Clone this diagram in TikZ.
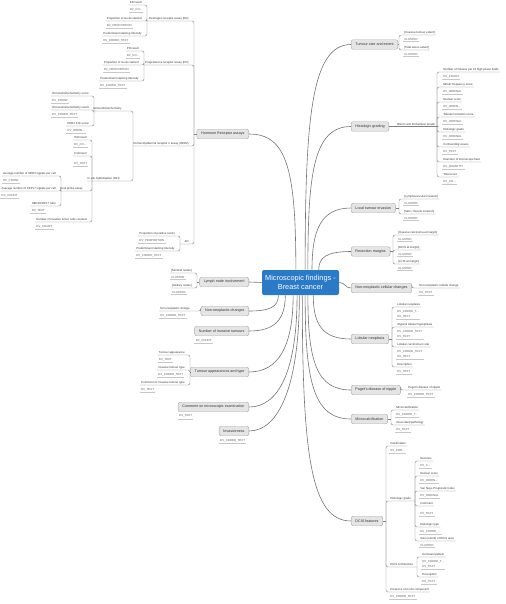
\documentclass[tikz,border=0pt]{standalone}
\usepackage{fontspec}
\setmainfont{Liberation Sans}

\tikzset{
  root/.style={fill={rgb,255:red,42;green,122;blue,200}, text=white, rounded corners=1.5pt,
    minimum width=57.75pt, minimum height=18.75pt, inner sep=0pt, align=center,
    font=\fontsize{5.5}{6.8}\selectfont},
  topic/.style={draw=black!35, fill=black!10, rounded corners=1.5pt, line width=0.3pt,
    font=\fontsize{2.75}{3.3}\selectfont, text=black!80, minimum height=7.1pt,
    inner xsep=3.2pt, inner ysep=0pt},
  kid/.style={font=\fontsize{2.15}{3.9}\selectfont, text=black!80, inner xsep=0.8pt,
    inner ysep=0.7pt, align=left},
  kidtype/.style={kid, text=black!65, yshift=-1.4pt},
  link/.style={draw=black!50, line width=0.3pt, rounded corners=1.5pt},
  typeline/.style={draw=black!22, line width=0.2pt},
  branch/.style={draw=black!55, line width=0.45pt}
}

% right hand child: name, bracket, x, y, label, type
\newcommand{\rkid}[6]{%
  \node[kid, anchor=south west] (#1) at (#3,#4+2) {#5};
  \node[kidtype, anchor=north west] (#1t) at (#1.south west) {#6};
  \draw[link] (#2) |- (#1.south west) -- (#1.south east);
  \draw[typeline] (#1t.south west) -- (#1t.south east);
}
% left hand child
\newcommand{\lkid}[6]{%
  \node[kid, anchor=south east] (#1) at (#3,#4+2) {#5};
  \node[kidtype, anchor=north west] (#1t) at (#1.south west) {#6};
  \draw[link] (#2) |- (#1.south east) -- (#1.south west);
  \draw[typeline] (#1t.south west) -- (#1t.south east);
}
% clusters with own bracket
\newcommand{\rsub}[6]{%
  \node[kid, anchor=south west] (#1) at (#3,#4+2) {#5};
  \coordinate (#1-b) at (#6,#4+2);
  \draw[link] (#2) |- (#1.south west) -- (#1.south east) -- (#1-b);
}
\newcommand{\lsub}[6]{%
  \node[kid, anchor=south east] (#1) at (#3,#4+2) {#5};
  \coordinate (#1-b) at (#6,#4+2);
  \draw[link] (#2) |- (#1.south east) -- (#1.south west) -- (#1-b);
}

\begin{document}
\begin{tikzpicture}[x=0.75pt,y=0.75pt,yscale=-1,xscale=1]
\useasboundingbox (0,0) rectangle (506,604);

% Central Node
\node[root] (main) at (300.5,282.5) {Microscopic findings -\\Breast cancer};

% Topics right
\node[topic, anchor=west] (size) at (351,44.5) {Tumour size and extent};
\node[topic, anchor=west] (hist) at (351,126.5) {Histologic grading};
\node[topic, anchor=west] (local) at (351,208) {Local tumour invasion};
\node[topic, anchor=west] (resect) at (351,251.5) {Resection margins};
\node[topic, anchor=west] (noncell) at (351,288) {Non-neoplastic cellular changes};
\node[topic, anchor=west] (lob) at (351,339) {Lobular neoplasia};
\node[topic, anchor=west] (paget) at (351,390) {Paget's disease of nipple};
\node[topic, anchor=west] (micro) at (351,419) {Microcalcification};
\node[topic, anchor=west] (dcis) at (351,521) {DCIS features};
% Topics left
\node[topic, anchor=east] (hr) at (249,134) {Hormone Receptor assays};
\node[topic, anchor=east] (lymph) at (249,282) {Lymph node involvement};
\node[topic, anchor=east] (nonneo) at (249,311) {Non-neoplastic changes};
\node[topic, anchor=east] (numinv) at (249,331) {Number of invasive tumours};
\node[topic, anchor=east] (tumapp) at (249,372) {Tumour appearances and type};
\node[topic, anchor=east] (comment) at (249,407) {Comment on microscopic examination};
\node[topic, anchor=east] (invas) at (249,431) {Invasiveness};

%Curve Lines
\draw[branch] (main.70) .. controls +(0,-150) and +(-40,0) .. (size.west);
\draw[branch] (main.60) .. controls +(0,-95) and +(-38,0) .. (hist.west);
\draw[branch] (main.48) .. controls +(0,-40) and +(-30,0) .. (local.west);
\draw[branch] (main.35) .. controls +(0,-12) and +(-25,0) .. (resect.west);
\draw[branch] (main.east) .. controls +(6,0) and +(-6,0) .. (noncell.west);
\draw[branch] (main.-45) .. controls +(0,30) and +(-28,0) .. (lob.west);
\draw[branch] (main.-60) .. controls +(0,65) and +(-35,0) .. (paget.west);
\draw[branch] (main.-70) .. controls +(0,85) and +(-38,0) .. (micro.west);
\draw[branch] (main.-82) .. controls +(0,160) and +(-40,0) .. (dcis.west);
\draw[branch] (main.110) .. controls +(0,-100) and +(38,0) .. (hr.east);
\draw[branch] (main.west) -- (lymph.east);
\draw[branch] (main.-150) .. controls +(0,12) and +(20,0) .. (nonneo.east);
\draw[branch] (main.-140) .. controls +(0,25) and +(25,0) .. (numinv.east);
\draw[branch] (main.-120) .. controls +(0,50) and +(30,0) .. (tumapp.east);
\draw[branch] (main.-105) .. controls +(0,75) and +(30,0) .. (comment.east);
\draw[branch] (main.-95) .. controls +(0,90) and +(30,0) .. (invas.east);

% Tumour size and extent
\coordinate (size-b) at (399,44.5);
\draw[link] (size.east) -- (size-b);
\rkid{sz1}{size-b}{403}{33}{[Invasive tumour extent]}{CLUSTER}
\rkid{sz2}{size-b}{403}{48}{[Total lesion extent]}{CLUSTER}

% Histologic grading
\node[kid, anchor=south west] (bloom) at (396,126.5) {Bloom and Richardson Grade};
\coordinate (bloom-b) at (437,126.5);
\draw[link] (hist.east) -- (bloom.south west) -- (bloom.south east) -- (bloom-b);
\rkid{gr1}{bloom-b}{442}{70}{Number of mitoses per 10 high power fields}{DV\_COUNT}
\rkid{gr2}{bloom-b}{442}{85}{Mitotic frequency score}{DV\_ORDINAL}
\rkid{gr3}{bloom-b}{442}{100}{Nuclear score}{DV\_ORDIN...}
\rkid{gr4}{bloom-b}{442}{115}{Tubular formation score}{DV\_ORDINAL}
\rkid{gr5}{bloom-b}{442}{130}{Histologic grade}{DV\_ORDINAL}
\rkid{gr6}{bloom-b}{442}{145}{Confounding issues}{DV\_TEXT}
\rkid{gr7}{bloom-b}{442}{160}{Diameter of microscope field}{DV\_QUANTITY}
\rkid{gr8}{bloom-b}{442}{175}{Total score}{DV\_CO...}

% Local tumour invasion
\coordinate (local-b) at (399,208);
\draw[link] (local.east) -- (local-b);
\rkid{lt1}{local-b}{403}{197}{[Lymphovascular invasion]}{CLUSTER}
\rkid{lt2}{local-b}{403}{212}{[Skin / muscle invasion]}{CLUSTER}

% Resection margins
\coordinate (resect-b) at (393,251.5);
\draw[link] (resect.east) -- (resect-b);
\rkid{rm1}{resect-b}{397}{233}{[Invasive carcinoma at margin]}{CLUSTER}
\rkid{rm2}{resect-b}{397}{248}{[DCIS at margin]}{CLUSTER}
\rkid{rm3}{resect-b}{397}{262}{[LCIS at margin]}{CLUSTER}

% Non-neoplastic cellular changes
\rkid{nc1}{noncell.east}{418}{286}{Non-neoplastic cellular change}{DV\_TEXT}

% Lobular neoplasia
\coordinate (lob-b) at (392,339);
\draw[link] (lob.east) -- (lob-b);
\rkid{ln1}{lob-b}{396}{305}{Lobular neoplasia}{DV\_CODED\_T...\\DV\_TEXT}
\rkid{ln2}{lob-b}{396}{325}{Atypical lobular hyperplasia}{DV\_CODED\_TEXT\\DV\_TEXT}
\rkid{ln3}{lob-b}{396}{345}{Lobular carcinoma in situ}{DV\_CODED\_TEXT\\DV\_TEXT}
\rkid{ln4}{lob-b}{396}{365}{Description}{DV\_TEXT}

% Paget's disease
\rkid{pg1}{paget.east}{407}{388}{Paget's disease of nipple}{DV\_CODED\_TEXT}

% Microcalcification
\coordinate (micro-b) at (391,419);
\draw[link] (micro.east) -- (micro-b);
\rkid{mc1}{micro-b}{395}{408}{Microcalcification}{DV\_CODED\_T...}
\rkid{mc2}{micro-b}{395}{423}{Associated pathology}{DV\_TEXT}

% DCIS features
\coordinate (dcis-b) at (386,521);
\draw[link] (dcis.east) -- (dcis-b);
\rkid{dc1}{dcis-b}{389}{444}{Calcification}{DV\_COD...}
\rsub{hg}{dcis-b}{389}{499}{Histologic grade}{415}
\rkid{hg1}{hg-b}{419}{459}{Necrosis}{DV\_C...}
\rkid{hg2}{hg-b}{419}{474}{Nuclear score}{DV\_ORDIN...}
\rkid{hg3}{hg-b}{419}{489}{Van Nuys Prognostic Index}{DV\_ORDINAL}
\rkid{hg4}{hg-b}{419}{504}{Comment}{\mbox{}\\DV\_TEXT}
\rkid{hg5}{hg-b}{419}{525}{Histologic type}{DV\_CODED\_...}
\rkid{hg6}{hg-b}{419}{539}{Size (extent) of DCIS area}{CLUSTER}
\rsub{da}{dcis-b}{389}{565}{DCIS Architecture}{417}
\rkid{da1}{da-b}{421}{555}{Dominant pattern}{DV\_CODED\_T...\\DV\_TEXT}
\rkid{da2}{da-b}{421}{575}{Description}{DV\_TEXT}
\rkid{dc4}{dcis-b}{389}{590}{Presence of in situ component}{DV\_CODED\_TEXT}

% Hormone Receptor assays
\coordinate (hr-b) at (194,134);
\draw[link] (hr.west) -- (hr-b);
\lsub{er}{hr-b}{190}{19}{Oestrogen receptor assay (ER)}{147}
\lkid{er1}{er-b}{143}{3}{ER result}{DV\_CO...}
\lkid{er2}{er-b}{143}{19}{Proportion of nuclei stained}{DV\_PROPORTION}
\lkid{er3}{er-b}{143}{34}{Predominant staining intensity}{DV\_CODED\_TEXT}
\lsub{pr}{hr-b}{190}{63}{Progesterone receptor assay (PR)}{144}
\lkid{pr1}{pr-b}{140}{49}{PR result}{DV\_CO...}
\lkid{pr2}{pr-b}{140}{63}{Proportion of nuclei stained}{DV\_PROPORTION}
\lkid{pr3}{pr-b}{140}{79}{Predominant staining intensity}{DV\_CODED\_TEXT}
\lsub{her}{hr-b}{190}{144}{Human Epidermal receptor 2 assay (HER2)}{133}
\lsub{ihc}{her-b}{123}{109}{Immunohistochemistry}{94}
\lkid{ih1}{ihc-b}{90}{94}{Immunohistochemistry score}{DV\_COUNT}
\lkid{ih2}{ihc-b}{90}{108}{Immunohistochemistry result}{DV\_CODED\_TEXT}
\lkid{ih3}{ihc-b}{90}{124}{HER2 IHC score}{DV\_ORDIN...}
\lsub{ish}{her-b}{121}{179}{In situ hybridisation (ISH)}{92}
\lkid{is1}{ish-b}{88}{138}{ISH result}{DV\_CO...}
\lkid{is2}{ish-b}{88}{154}{Comment}{\mbox{}\\DV\_TEXT}
\lsub{dp}{ish-b}{84}{189}{Dual probe assay}{61}
\lkid{dp1}{dp-b}{57}{174}{Average number of HER2 signals per cell}{DV\_COUNT}
\lkid{dp2}{dp-b}{57}{189}{Average number of CEP17 signals per cell}{DV\_COUNT}
\lkid{dp3}{dp-b}{57}{204}{HER2/CEP17 ratio}{DV\_TEXT}
\lkid{is3}{ish-b}{88}{220}{Number of invasive tumor cells counted}{DV\_COUNT}
\lsub{ar}{hr-b}{190}{242}{AR}{180}
\lkid{ar1}{ar-b}{176}{234}{Proportion of positive nuclei}{DV\_PROPORTION}
\lkid{ar2}{ar-b}{176}{249}{Predominant staining intensity}{DV\_CODED\_TEXT}

% Lymph node involvement
\coordinate (lymph-b) at (197,282);
\draw[link] (lymph.west) -- (lymph-b);
\lkid{ly1}{lymph-b}{193}{271}{[Sentinel nodes]}{CLUSTER}
\lkid{ly2}{lymph-b}{193}{286}{[Axillary nodes]}{CLUSTER}

% Non-neoplastic changes
\lkid{nn1}{nonneo.west}{191}{309}{Non-neoplastic change}{DV\_CODED\_TEXT}

% Tumour appearances and type
\coordinate (tumapp-b) at (190,372);
\draw[link] (tumapp.west) -- (tumapp-b);
\lkid{ta1}{tumapp-b}{186}{353}{Tumour appearance}{DV\_TEXT}
\lkid{ta2}{tumapp-b}{186}{368}{Invasive tumour type}{DV\_CODED\_TEXT}
\lkid{ta3}{tumapp-b}{186}{383}{Comment on invasive tumour type}{DV\_TEXT}

% Text Node
\node[kidtype, anchor=north west] (numinvt) at (numinv.south west) {DV\_COUNT};
\draw[typeline] (numinvt.south west) -- (numinvt.south east);
% Text Node
\node[kidtype, anchor=north west] (commentt) at (comment.south west) {DV\_TEXT};
\draw[typeline] (commentt.south west) -- (commentt.south east);
% Text Node
\node[kidtype, anchor=north west] (invast) at (invas.south west) {DV\_CODED\_TEXT};
\draw[typeline] (invast.south west) -- (invast.south east);

\end{tikzpicture}
\end{document}
